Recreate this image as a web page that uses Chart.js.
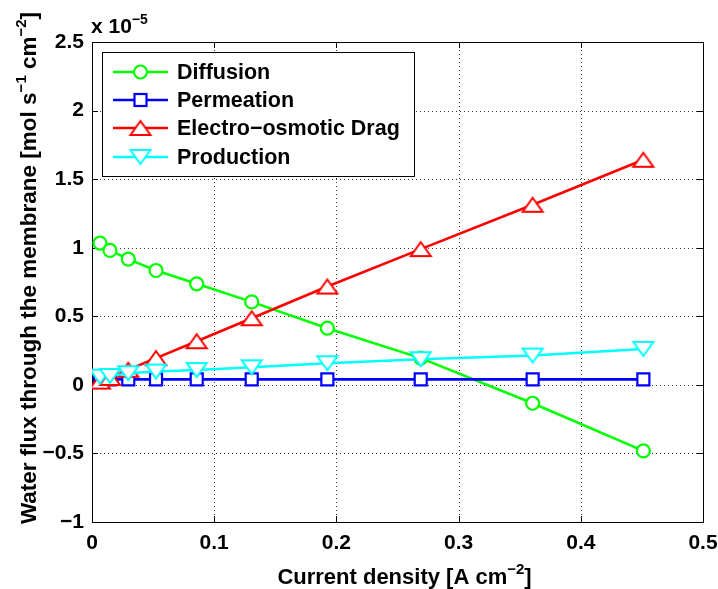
<!DOCTYPE html>
<html>
<head>
<meta charset="utf-8">
<script src="https://cdn.jsdelivr.net/npm/chart.js@4.4.1/dist/chart.umd.min.js"></script>
<style>
  html, body { margin: 0; padding: 0; background: #fff; }
  canvas { display: block; }
</style>
</head>
<body>
<canvas id="grafico" width="718" height="589"></canvas>
<script>
// Dados (fluxo em unidades de 1e-5 mol s^-1 cm^-2)
const current = [0.0065, 0.0147, 0.0297, 0.0524, 0.0857, 0.1307, 0.1926, 0.269, 0.3606, 0.4512];
const diffusion = [1.034, 0.98, 0.917, 0.834, 0.737, 0.605, 0.413, 0.195, -0.134, -0.481];
const permeation = [0.04, 0.04, 0.04, 0.04, 0.04, 0.04, 0.04, 0.04, 0.04, 0.04];
const eod = [0.024, 0.05, 0.11, 0.195, 0.318, 0.486, 0.717, 0.99, 1.313, 1.641];
const production = [0.06, 0.065, 0.085, 0.097, 0.108, 0.128, 0.158, 0.187, 0.214, 0.262];

const seriesNames = ['Diffusion', 'Permeation', 'Electro\u2212osmotic Drag', 'Production'];
const seriesColors = ['#00ff00', '#0000ff', '#ff0000', '#00ffff'];

const xTicks = [0, 0.1, 0.2, 0.3, 0.4, 0.5];
const yTicks = [-1, -0.5, 0, 0.5, 1, 1.5, 2, 2.5];

const FONT = '"Liberation Sans", Arial, Helvetica, sans-serif';

// marcadores triangulares no estilo do MATLAB
function triMarker(color, up) {
    const c = document.createElement('canvas');
    c.width = 26; c.height = 20;
    const g = c.getContext('2d');
    g.lineWidth = 2;
    g.strokeStyle = color;
    g.fillStyle = '#fff';
    g.beginPath();
    if (up) {
        g.moveTo(13, 3); g.lineTo(23, 17); g.lineTo(3, 17);
    } else {
        g.moveTo(13, 17); g.lineTo(23, 3); g.lineTo(3, 3);
    }
    g.closePath();
    g.fill();
    g.stroke();
    return c;
}
const upTri = triMarker(seriesColors[2], true);
const downTri = triMarker(seriesColors[3], false);

const toPoints = (ys) => ys.map((y, i) => ({ x: current[i], y: y }));

const datasets = [
    { label: seriesNames[0], data: toPoints(diffusion), borderColor: seriesColors[0],
      pointStyle: 'circle', pointRadius: 6.5, order: 3 },
    { label: seriesNames[1], data: toPoints(permeation), borderColor: seriesColors[1],
      pointStyle: 'rect', pointRadius: 8.5, order: 2 },
    { label: seriesNames[2], data: toPoints(eod), borderColor: seriesColors[2],
      pointStyle: upTri, pointRadius: 10, order: 1 },
    { label: seriesNames[3], data: toPoints(production), borderColor: seriesColors[3],
      pointStyle: downTri, pointRadius: 10, order: 0 }
].map(d => Object.assign(d, {
    borderWidth: 2.6,
    pointBorderColor: d.borderColor,
    pointBackgroundColor: '#fff',
    pointBorderWidth: 2.2,
    tension: 0,
    fill: false
}));

// texto com sobrescritos
function drawRich(ctx, parts, x, y, align, size) {
    const supSize = Math.round(size * 0.68);
    let total = 0;
    parts.forEach(p => {
        ctx.font = 'bold ' + (p.sup ? supSize : size) + 'px ' + FONT;
        p.w = ctx.measureText(p.t).width;
        total += p.w;
    });
    let cx = align === 'center' ? x - total / 2 : x;
    ctx.textAlign = 'left';
    ctx.textBaseline = 'alphabetic';
    ctx.fillStyle = '#000';
    parts.forEach(p => {
        ctx.font = 'bold ' + (p.sup ? supSize : size) + 'px ' + FONT;
        ctx.fillText(p.t, cx, p.sup ? y - size * 0.45 : y);
        cx += p.w;
    });
}

// eixos, grade pontilhada e marcas internas
const matlabAxes = {
    id: 'matlabAxes',
    beforeDatasetsDraw(chart) {
        const { ctx, chartArea: a, scales: { x, y } } = chart;
        ctx.save();
        ctx.lineWidth = 1;
        ctx.strokeStyle = '#333';
        ctx.setLineDash([1, 3]);
        xTicks.slice(1, -1).forEach(v => {
            const px = Math.round(x.getPixelForValue(v)) + 0.5;
            ctx.beginPath(); ctx.moveTo(px, a.top); ctx.lineTo(px, a.bottom); ctx.stroke();
        });
        yTicks.slice(1, -1).forEach(v => {
            const py = Math.round(y.getPixelForValue(v)) + 0.5;
            ctx.beginPath(); ctx.moveTo(a.left, py); ctx.lineTo(a.right, py); ctx.stroke();
        });
        ctx.setLineDash([]);
        ctx.strokeStyle = '#000';
        const L = 6;
        xTicks.forEach(v => {
            const px = Math.round(x.getPixelForValue(v)) + 0.5;
            ctx.beginPath();
            ctx.moveTo(px, a.bottom); ctx.lineTo(px, a.bottom - L);
            ctx.moveTo(px, a.top); ctx.lineTo(px, a.top + L);
            ctx.stroke();
        });
        yTicks.forEach(v => {
            const py = Math.round(y.getPixelForValue(v)) + 0.5;
            ctx.beginPath();
            ctx.moveTo(a.left, py); ctx.lineTo(a.left + L, py);
            ctx.moveTo(a.right, py); ctx.lineTo(a.right - L, py);
            ctx.stroke();
        });
        ctx.strokeRect(Math.round(a.left) + 0.5, Math.round(a.top) + 0.5,
            Math.round(a.right - a.left), Math.round(a.bottom - a.top));
        ctx.restore();
    },
    afterDraw(chart) {
        const { ctx, chartArea: a } = chart;
        ctx.save();
        // legenda
        const bx = 102.5, by = 52.5, bw = 312, bh = 124;
        ctx.fillStyle = '#fff';
        ctx.fillRect(bx, by, bw, bh);
        ctx.strokeStyle = '#000';
        ctx.lineWidth = 1;
        ctx.strokeRect(bx, by, bw, bh);
        const rows = [72, 100, 128, 157];
        chart.data.datasets.forEach((ds, i) => {
            const yy = rows[i];
            ctx.strokeStyle = ds.borderColor;
            ctx.lineWidth = 2.6;
            ctx.beginPath(); ctx.moveTo(113, yy); ctx.lineTo(168, yy); ctx.stroke();
            ctx.lineWidth = 2.2;
            ctx.fillStyle = '#fff';
            if (ds.pointStyle === 'circle') {
                ctx.beginPath(); ctx.arc(140.5, yy, 6.5, 0, Math.PI * 2); ctx.fill(); ctx.stroke();
            } else if (ds.pointStyle === 'rect') {
                ctx.fillRect(134.5, yy - 6, 12, 12);
                ctx.strokeRect(134.5, yy - 6, 12, 12);
            } else {
                ctx.drawImage(ds.pointStyle, 140.5 - 13, yy - 10);
            }
            ctx.fillStyle = '#000';
            ctx.font = 'bold 21.5px ' + FONT;
            ctx.textAlign = 'left';
            ctx.textBaseline = 'middle';
            ctx.fillText(ds.label, 177, yy + 1);
        });
        // títulos dos eixos
        drawRich(ctx, [{ t: 'Current density [A cm' }, { t: '\u22122', sup: true }, { t: ']' }],
            (a.left + a.right) / 2 + 7, 584, 'center', 22);
        drawRich(ctx, [{ t: 'x 10' }, { t: '\u22125', sup: true }], 91, 33, 'left', 21);
        ctx.translate(36, 268);
        ctx.rotate(-Math.PI / 2);
        drawRich(ctx, [{ t: 'Water flux through the membrane [mol s' }, { t: '\u22121', sup: true },
            { t: ' cm' }, { t: '\u22122', sup: true }, { t: ']' }], 0, 0, 'center', 22.5);
        ctx.restore();
    }
};

const tickFont = { family: FONT, size: 21, weight: 'bold' };

const options = {
    responsive: false,
    animation: false,
    events: [],
    layout: { padding: { top: 42, right: 15, left: 0, bottom: 0 } },
    plugins: {
        legend: { display: false },
        tooltip: { enabled: false }
    },
    scales: {
        x: {
            type: 'linear',
            min: 0, max: 0.5,
            afterBuildTicks: (s) => { s.ticks = xTicks.map(v => ({ value: v })); },
            afterFit: (s) => { s.height = 67; s.paddingLeft = 0; s.paddingRight = 0; },
            grid: { display: false, drawTicks: false },
            border: { display: false },
            ticks: { font: tickFont, color: '#000', padding: 9, maxRotation: 0, autoSkip: false,
                callback: (v) => String(v) }
        },
        y: {
            min: -1, max: 2.5,
            afterBuildTicks: (s) => { s.ticks = yTicks.map(v => ({ value: v })); },
            afterFit: (s) => { s.width = 92; s.paddingTop = 0; s.paddingBottom = 0; },
            grid: { display: false, drawTicks: false },
            border: { display: false },
            ticks: { font: tickFont, color: '#000', padding: 8,
                callback: (v) => String(v).replace('-', '\u2212') }
        }
    }
};

new Chart(document.getElementById('grafico').getContext('2d'), {
    type: 'line',
    data: { datasets: datasets },
    options: options,
    plugins: [matlabAxes]
});
</script>
</body>
</html>
